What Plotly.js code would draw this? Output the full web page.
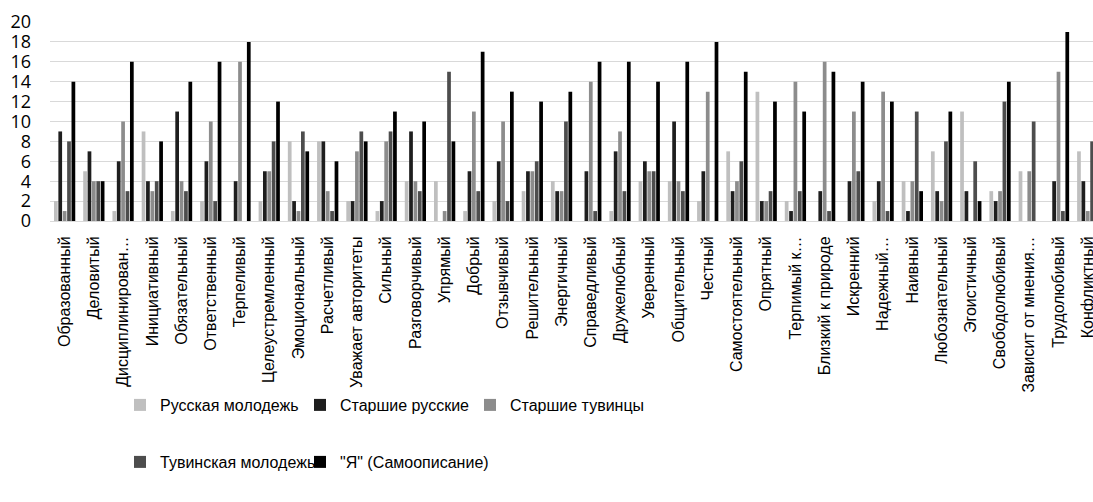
<!DOCTYPE html>
<html>
<head>
<meta charset="utf-8">
<script src="https://cdn.plot.ly/plotly-3.0.1.min.js"></script>
<style>html,body{margin:0;padding:0;background:#fff;}#chart{width:1093px;height:502px;}</style>
</head>
<body>
<div id="chart"></div>
<script>
const categories = ["Образованный","Деловитый","Дисциплинирован…","Инициативный","Обязательный","Ответственный","Терпеливый","Целеустремленный","Эмоциональный","Расчетливый","Уважает авторитеты","Сильный","Разговорчивый","Упрямый","Добрый","Отзывчивый","Решительный","Энергичный","Справедливый","Дружелюбный","Уверенный","Общительный","Честный","Самостоятельный","Опрятный","Терпимый к…","Близкий к природе","Искренний","Надежный…","Наивный","Любознательный","Эгоистичный","Свободолюбивый","Зависит от мнения…","Трудолюбивый","Конфликтный"];

const russianYouth = [2,5,1,9,1,2,0,2,8,8,2,1,4,4,1,2,3,4,0,1,4,4,2,7,13,2,0,0,2,4,7,11,3,5,0,7];
const seniorRussians = [9,7,6,4,11,6,4,5,2,8,2,2,9,0,5,6,5,3,5,7,6,10,5,3,2,1,3,4,4,1,3,3,2,0,4,4];
const seniorTuvans = [1,4,10,3,4,10,16,5,1,3,7,8,4,1,11,10,5,3,14,9,5,4,13,4,2,14,16,11,13,4,2,0,3,5,15,1];
const tuvanYouth = [8,4,3,4,3,2,0,8,9,1,9,9,3,15,3,2,6,10,1,3,5,3,0,6,3,3,1,5,1,11,8,6,12,10,1,8];
const selfDescription = [14,4,16,8,14,16,18,12,7,6,8,11,10,8,17,13,12,13,16,16,14,16,18,15,12,11,15,14,12,3,11,2,14,0,19,2];

const seriesNames = ["Русская молодежь","Старшие русские","Старшие тувинцы","Тувинская молодежь","\"Я\" (Самоописание)"];
const seriesValues = [russianYouth, seniorRussians, seniorTuvans, tuvanYouth, selfDescription];
const seriesColors = ["#bfbfbf","#1e1e1e","#8c8c8c","#4d4d4d","#000000"];
const legendIds = ["legend","legend2","legend3","legend4","legend5"];

const traces = seriesNames.map((name, i) => ({
  type: "bar",
  name: name,
  x: categories,
  y: seriesValues[i],
  marker: {color: seriesColors[i]},
  legend: legendIds[i],
  hoverinfo: "x+y+name"
}));

const legendFont = {family: "Liberation Sans, Arial, sans-serif", size: 16, color: "#000"};
// legend box left edge and row centre (px in container)
const legendPos = [[120, 405], [300, 405], [470, 405], [120, 462], [300, 462]];

const layout = {
  width: 1093,
  height: 502,
  margin: {l: 50, r: 0, t: 21.7, b: 281},
  paper_bgcolor: "#fff",
  plot_bgcolor: "#fff",
  barmode: "group",
  bargap: 0.25,
  bargroupgap: 0.15,
  showlegend: true,
  xaxis: {
    type: "category",
    range: [-0.5, 35.18],
    tickangle: -90,
    tickfont: {family: "Liberation Sans, Arial, sans-serif", size: 16, color: "#000"},
    showgrid: false,
    showline: true,
    linecolor: "#d9d9d9",
    linewidth: 1,
    ticks: "",
    ticklabelstandoff: 8,
    automargin: false
  },
  yaxis: {
    range: [0, 20],
    dtick: 2,
    tick0: 0,
    showgrid: true,
    gridcolor: "#d9d9d9",
    gridwidth: 1,
    zeroline: false,
    showline: false,
    ticks: "",
    ticklabelstandoff: 18,
    tickfont: {family: "Open Sans, sans-serif", size: 18, color: "#000"},
    automargin: false
  }
};

legendIds.forEach((id, i) => {
  layout[id] = {
    orientation: "h",
    xref: "container", yref: "container",
    x: legendPos[i][0] / 1093,
    y: 1 - legendPos[i][1] / 502,
    xanchor: "left", yanchor: "middle",
    font: legendFont,
    bgcolor: "rgba(0,0,0,0)"
  };
});

Plotly.newPlot("chart", traces, layout, {displayModeBar: false, staticPlot: true});
</script>
</body>
</html>
